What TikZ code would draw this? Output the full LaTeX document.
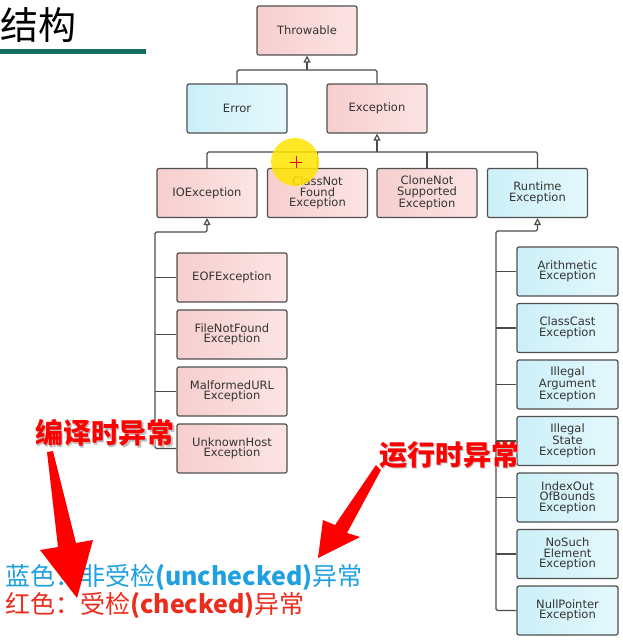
\documentclass[tikz,border=0pt]{standalone}
\usepackage{fontspec}
\setmainfont{DejaVu Sans}
\newfontfamily\cjk{Noto Sans CJK SC}
\usetikzlibrary{arrows.meta}

\definecolor{boxline}{RGB}{80,80,80}
\definecolor{pinkA}{RGB}{247,206,206}
\definecolor{pinkB}{RGB}{252,228,228}
\definecolor{blueA}{RGB}{204,240,248}
\definecolor{blueB}{RGB}{228,248,252}
\definecolor{titleteal}{RGB}{20,110,95}
\definecolor{uncheckblue}{RGB}{30,160,225}
\definecolor{checkred}{RGB}{235,45,30}
\definecolor{calloutred}{RGB}{255,0,0}
\definecolor{markyellow}{RGB}{255,228,0}

\tikzset{
  cls/.style={draw=boxline, line width=1.2pt, rounded corners=2pt,
    minimum width=100pt, minimum height=49pt, align=center, inner sep=1pt,
    text=black!80, font=\fontsize{11.5}{10.5}\selectfont},
  checked/.style={cls, left color=pinkA, right color=pinkB},
  unchecked/.style={cls, left color=blueA, right color=blueB},
  iochild/.style={checked, minimum width=110pt},
  rtchild/.style={unchecked, minimum width=101pt},
  link/.style={draw=black!70, line width=1.2pt, rounded corners=1.5pt},
  gen/.style={link, -{Triangle[open,fill=white,length=7pt,width=7pt]}},
  callout/.style={inner sep=0, font=\cjk\bfseries\fontsize{28}{28}\selectfont},
  legend/.style={anchor=base west, inner sep=0, font=\cjk\fontsize{25}{25}\selectfont},
}

\begin{document}
\begin{tikzpicture}[x=1pt,y=-1pt]
    \useasboundingbox (0,0) rectangle (623,641);
    \fill[white] (0,0) rectangle (623,641);

    % Titel
    \node[anchor=west, inner sep=0, font=\cjk\fontsize{38}{38}\selectfont] (title) at (0,25) {结构};
    \draw[titleteal, line width=5pt] (0,51.5) -- (146,51.5);

    % Hierarchie
    \node[checked] (thr) at (307,30.5) {Throwable};
    \node[unchecked] (err) at (237,108.5) {Error};
    \node[checked] (exc) at (377,108.5) {Exception};

    \node[checked] (io) at (207,193) {IOException};
    \node[checked] (cnf) at (317.5,193) {ClassNot\\Found\\Exception};
    \node[checked] (cns) at (427,193) {CloneNot\\Supported\\Exception};
    \node[unchecked] (rt) at (537.5,193) {Runtime\\Exception};

    % IOException
    \node[iochild] (eof) at (232,277.5) {EOFException};
    \node[iochild] (fnf) at (232,334.5) {FileNotFound\\Exception};
    \node[iochild] (mal) at (232,391.5) {MalformedURL\\Exception};
    \node[iochild] (uh) at (232,448.5) {UnknownHost\\Exception};

    % RuntimeException
    \node[rtchild] (ari) at (567.5,271.5) {Arithmetic\\Exception};
    \node[rtchild] (cc) at (567.5,328) {ClassCast\\Exception};
    \node[rtchild] (iae) at (567.5,384.5) {Illegal\\Argument\\Exception};
    \node[rtchild] (ise) at (567.5,441) {Illegal\\State\\Exception};
    \node[rtchild] (ioob) at (567.5,497.5) {IndexOut\\OfBounds\\Exception};
    \node[rtchild] (nse) at (567.5,554) {NoSuch\\Element\\Exception};
    \node[rtchild] (npe) at (567.5,610.5) {NullPointer\\Exception};

    % Verbindungen
    \coordinate (tj) at (307,70);
    \draw[link] (err.north) |- (tj) -| (exc.north);
    \draw[gen] (tj) -- (thr.south);

    \coordinate (ej) at (377,152);
    \draw[link] (io.north) |- (ej) -| (rt.north);
    \draw[link] (cnf.north) -- (cnf.north |- ej);
    \draw[link] (cns.north) -- (cns.north |- ej);
    \draw[gen] (ej) -- (exc.south);

    \coordinate (iobus) at (155,232);
    \draw[gen] (uh.west) -| (iobus) -| (io.south);
    \foreach \cname in {eof,fnf,mal} {
        \draw[link] (\cname.west) -- (\cname.west -| iobus);
    }

    \coordinate (rtbus) at (496,231);
    \draw[gen] (npe.west) -| (rtbus) -| (rt.south);
    \foreach \cname in {ari,cc,iae,ise,ioob,nse} {
        \draw[link] (\cname.west) -- (\cname.west -| rtbus);
    }

    % Mauszeiger
    \fill[markyellow, opacity=0.85] (295,162) circle (24);
    \draw[red, line width=1pt] (290,162) -- (302,162) (296,156) -- (296,168);

    % Legende
    \node[legend, text=uncheckblue] (ulegend) at (5,585) {蓝色：非受检\textbf{(unchecked)}异常};
    \node[legend, text=checkred] (clegend) at (5,613) {红色：受检\textbf{(checked)}异常};

    % Hinweise
    \node[callout, text=black!25] at (106.5,434.5) {编译时异常};
    \node[callout, text=calloutred] (ctime) at (105,433) {编译时异常};
    \node[callout, text=black!25] at (450.5,456.5) {运行时异常};
    \node[callout, text=calloutred] (rtime) at (449,455) {运行时异常};

    \fill[calloutred] (47,452) -- (53,451) -- (76,543) -- (93,540) -- (77,598)
        -- (40,550) -- (58,547) -- cycle;
    \fill[calloutred] (376,465) -- (381,470) -- (347,533) -- (360,537) -- (318,558)
        -- (323,520) -- (335,525) -- cycle;
\end{tikzpicture}
\end{document}
